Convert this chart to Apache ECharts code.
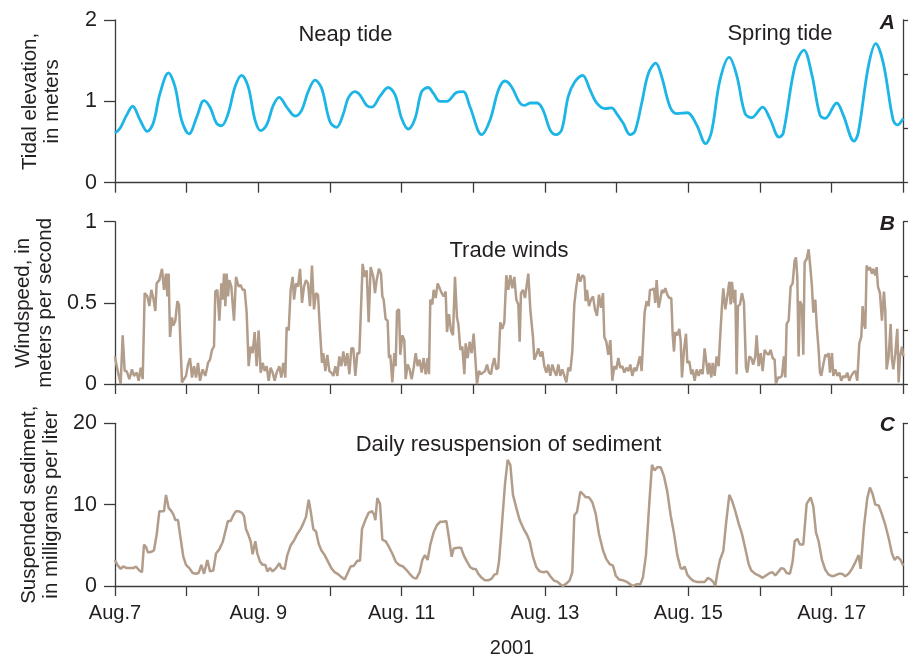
<!DOCTYPE html>
<html>
<head>
<meta charset="utf-8">
<script src="https://cdn.jsdelivr.net/npm/echarts@6/dist/echarts.min.js"></script>
<style>
html,body{margin:0;padding:0;background:#fff;}
#c{width:908px;height:658px;}
</style>
</head>
<body>
<div id="c"></div>
<script>
// x values: hours since Aug. 7, 2001 00:00
const dayLabels = ['Aug.7','','Aug. 9','','Aug. 11','','Aug. 13','','Aug. 15','','Aug. 17',''];

// Panel A: tidal elevation (m)
const tide = [[0,0.61],[1.7,0.67],[3.9,0.83],[5.9,0.94],[8.4,0.77],[10.8,0.63],[12.8,0.73],[15.1,1.10],[17.9,1.35],[20.1,1.18],[22.3,0.77],[24.8,0.60],[27.4,0.81],[29.8,1.01],[31.8,0.93],[34.0,0.73],[35.7,0.70],[37.9,0.85],[40.2,1.18],[42.4,1.32],[44.6,1.18],[46.9,0.77],[48.8,0.64],[50.8,0.71],[53.0,0.95],[55.0,1.05],[57.5,0.93],[60.3,0.82],[62.5,0.89],[64.7,1.12],[67.0,1.26],[69.2,1.16],[72.0,0.75],[74.2,0.68],[76.5,0.85],[78.1,1.04],[80.4,1.12],[82.0,1.08],[84.3,0.95],[86.0,0.93],[88.7,1.06],[91.5,1.17],[93.8,1.08],[96.0,0.79],[98.2,0.66],[100.5,0.79],[102.7,1.12],[104.9,1.17],[106.6,1.10],[108.8,1.00],[111.1,1.00],[114.4,1.11],[116.6,1.12],[118.9,0.93],[122.8,0.59],[125.6,0.77],[128.4,1.14],[130.6,1.25],[132.8,1.18],[135.6,0.98],[137.3,0.95],[139.0,0.98],[141.4,0.98],[143.4,0.89],[145.7,0.65],[147.7,0.59],[149.6,0.65],[151.8,1.06],[154.0,1.24],[156.6,1.32],[159.1,1.14],[161.3,0.98],[164.1,0.91],[166.3,0.92],[168.0,0.85],[170.2,0.73],[172.5,0.59],[174.1,0.63],[176.4,0.98],[178.6,1.34],[181.1,1.47],[183.1,1.30],[185.9,0.93],[188.1,0.85],[191.7,0.86],[194.8,0.71],[197.8,0.48],[199.8,0.63],[202.6,1.26],[205.7,1.54],[208.2,1.32],[211.0,0.85],[213.2,0.80],[216.9,0.93],[219.3,0.79],[222.4,0.56],[223.8,0.61],[227.7,1.43],[230.7,1.63],[233.3,1.34],[236.1,0.83],[237.8,0.79],[241.7,0.98],[243.9,0.83],[247.5,0.51],[248.9,0.61],[252.3,1.43],[254.8,1.71],[257.3,1.47],[260.6,0.77],[262.0,0.71],[264.0,0.79]];

// Panel B: windspeed (m/s)
const wind = [[0,0.17],[0.56,0.11],[1.12,0.12],[1.9,0],[2.57,0.3],[3.24,0.08],[3.91,0.08],[4.8,0.03],[5.69,0.09],[6.36,0.05],[7.26,0.07],[7.93,0.02],[8.6,0.1],[9.27,0.03],[9.94,0.56],[10.83,0.54],[11.5,0.48],[12.17,0.58],[12.84,0.53],[13.51,0.45],[13.95,0.62],[14.85,0.64],[15.74,0.71],[16.41,0.58],[17.08,0.68],[17.53,0.54],[17.97,0.68],[18.42,0.29],[19.09,0.41],[19.54,0.36],[20.21,0.39],[20.88,0.51],[21.43,0.49],[21.99,0.21],[22.44,0.01],[23.11,0.03],[23.78,0.05],[24.45,0.12],[25.12,0.16],[25.79,0.04],[26.46,0.11],[27.13,0.04],[27.8,0.13],[28.47,0.02],[29.36,0.09],[30.25,0.05],[31.15,0.13],[31.82,0.15],[32.48,0.21],[33.15,0.23],[33.6,0.57],[34.27,0.58],[34.94,0.39],[35.61,0.62],[36.06,0.52],[36.5,0.68],[36.95,0.48],[37.4,0.68],[37.84,0.54],[38.29,0.64],[38.96,0.6],[39.85,0.39],[40.52,0.66],[41.41,0.6],[42.08,0.61],[42.75,0.58],[43.42,0.58],[44.09,0.44],[44.76,0.11],[45.43,0.23],[46.1,0.19],[46.77,0.32],[47.44,0.11],[48.11,0.33],[48.78,0.07],[49.45,0.13],[50.12,0.08],[50.79,0.11],[51.46,0.02],[52.13,0.1],[52.8,0.07],[53.47,0.02],[54.14,0.07],[55.03,0.11],[55.7,0.04],[56.37,0.13],[57.04,0.04],[57.49,0.35],[58.16,0.33],[58.83,0.58],[59.5,0.66],[59.95,0.52],[60.62,0.62],[61.29,0.6],[61.96,0.71],[62.63,0.5],[63.3,0.6],[63.96,0.64],[64.63,0.62],[65.3,0.48],[65.97,0.73],[66.64,0.46],[67.31,0.56],[67.98,0.55],[68.65,0.33],[69.32,0.13],[69.77,0.19],[70.44,0.08],[71.11,0.18],[71.78,0.08],[72.45,0.07],[73.12,0.05],[73.79,0.11],[74.46,0.05],[75.13,0.17],[75.8,0.11],[76.47,0.2],[77.14,0.11],[77.81,0.19],[78.48,0.06],[79.15,0.22],[79.82,0.22],[80.49,0.05],[81.16,0.19],[81.83,0.19],[82.27,0.41],[82.94,0.74],[83.61,0.66],[84.28,0.7],[84.95,0.38],[85.62,0.72],[86.51,0.66],[87.07,0.56],[87.63,0.64],[88.41,0.71],[89.08,0.68],[89.53,0.54],[89.97,0.52],[90.64,0.4],[91.31,0.39],[91.76,0.16],[92.2,0.18],[92.87,0.01],[93.54,0.19],[93.99,0.11],[94.44,0.45],[95.11,0.46],[95.55,0.18],[96.22,0.3],[96.89,0.27],[97.34,0.03],[98.01,0.12],[98.68,0.09],[99.35,0.03],[100.02,0.1],[100.69,0.19],[101.36,0.11],[102.03,0.15],[102.7,0.07],[103.37,0.16],[104.04,0.06],[104.71,0.16],[105.15,0.06],[105.6,0.52],[106.27,0.49],[106.72,0.58],[107.39,0.53],[108.06,0.62],[108.73,0.59],[109.4,0.56],[110.07,0.54],[110.74,0.57],[111.18,0.32],[111.85,0.43],[112.52,0.33],[113.19,0.3],[113.86,0.66],[114.53,0.41],[114.98,0.37],[115.65,0.21],[116.32,0.23],[116.99,0.06],[117.43,0.25],[118.1,0.16],[118.77,0.26],[119.44,0.19],[120.11,0.31],[120.56,0.19],[121.23,0],[121.9,0.08],[122.57,0.06],[123.24,0.07],[123.91,0.08],[124.58,0.12],[125.25,0.07],[125.92,0.06],[126.36,0.11],[127.03,0.16],[127.7,0.09],[128.37,0.1],[129.04,0.38],[129.71,0.34],[130.38,0.38],[131.05,0.67],[131.72,0.58],[132.39,0.67],[133.06,0.59],[133.73,0.66],[134.4,0.52],[135.07,0.49],[135.52,0.26],[135.96,0.56],[136.63,0.58],[137.3,0.53],[137.97,0.62],[138.42,0.68],[139.09,0.46],[139.54,0.37],[139.98,0.29],[140.43,0.15],[141.1,0.18],[141.77,0.22],[142.44,0.17],[143.11,0.2],[143.78,0.11],[144.45,0.07],[145.12,0.12],[145.79,0.05],[146.46,0.12],[147.13,0.08],[147.8,0.05],[148.47,0.12],[149.14,0.05],[149.81,0.09],[150.48,0.05],[151.15,0.01],[151.81,0.1],[152.48,0.08],[153.15,0.2],[153.82,0.49],[154.49,0.6],[155.16,0.68],[155.83,0.63],[156.5,0.67],[157.17,0.66],[157.62,0.51],[158.07,0.58],[158.74,0.48],[159.41,0.52],[160.08,0.54],[160.74,0.46],[161.41,0.42],[162.08,0.55],[162.75,0.47],[163.42,0.56],[163.87,0.29],[164.54,0.26],[165.21,0.18],[165.88,0.27],[166.55,0.02],[167.22,0.11],[167.89,0.09],[168.56,0.16],[169.23,0.1],[169.9,0.11],[170.57,0.07],[171.24,0.1],[171.91,0.08],[172.58,0.12],[173.25,0.05],[173.92,0.1],[174.59,0.08],[175.26,0.13],[175.81,0.17],[176.37,0.08],[176.93,0.28],[177.37,0.44],[178.04,0.51],[178.71,0.48],[179.16,0.58],[179.83,0.58],[180.5,0.59],[180.94,0.5],[181.39,0.64],[182.06,0.47],[182.51,0.51],[183.18,0.58],[183.62,0.56],[184.29,0.59],[184.96,0.55],[185.63,0.53],[186.3,0.53],[186.75,0.31],[187.2,0.2],[187.64,0.32],[188.31,0.3],[188.98,0.34],[189.43,0.27],[189.88,0.04],[190.55,0.21],[191.22,0.31],[191.66,0.13],[192.33,0.14],[193,0.06],[193.45,0.09],[194.12,0.02],[194.79,0.09],[195.46,0.05],[196.13,0.09],[196.8,0.06],[197.47,0.22],[197.91,0.15],[198.58,0.06],[199.03,0.13],[199.7,0.04],[200.15,0.13],[200.82,0.05],[201.48,0.17],[202.15,0.11],[202.6,0.27],[203.27,0.48],[203.72,0.59],[204.39,0.46],[205.06,0.54],[205.73,0.63],[206.17,0.49],[206.62,0.63],[207.29,0.5],[207.74,0.58],[208.18,0.06],[208.63,0.48],[209.3,0.49],[209.97,0.56],[210.64,0.5],[211.31,0.1],[211.75,0.07],[212.42,0.17],[213.09,0.16],[213.76,0.12],[214.43,0.17],[214.88,0.3],[215.55,0.11],[216.22,0.19],[216.89,0.08],[217.56,0.21],[218.23,0.19],[218.9,0.18],[219.57,0.21],[220.24,0.16],[220.91,0.15],[221.35,0],[222.02,0.04],[222.69,0.04],[223.36,0.05],[224.03,0.17],[224.48,0.04],[224.93,0.37],[225.6,0.39],[226.27,0.6],[226.94,0.62],[227.61,0.76],[228.05,0.78],[228.5,0.66],[228.94,0.17],[229.39,0.51],[230.06,0.48],[230.51,0.18],[230.96,0.75],[231.63,0.77],[232.3,0.83],[232.96,0.7],[233.41,0.6],[233.86,0.44],[234.53,0.52],[234.97,0.37],[235.64,0.21],[236.09,0.07],[236.54,0.05],[237.21,0.12],[237.88,0.18],[238.55,0.17],[238.99,0.19],[239.44,0.07],[240.11,0.19],[240.56,0.05],[241.23,0.09],[241.9,0.05],[242.57,0.07],[243.23,0.02],[243.9,0.05],[244.57,0.04],[245.24,0.07],[245.91,0.02],[246.58,0.05],[247.25,0.07],[247.92,0.08],[248.59,0.02],[249.26,0.25],[249.93,0.29],[250.38,0.48],[250.83,0.37],[251.27,0.34],[251.72,0.73],[252.39,0.7],[252.83,0.72],[253.5,0.68],[253.95,0.71],[254.62,0.67],[255.07,0.72],[255.51,0.6],[256.18,0.56],[256.85,0.39],[257.52,0.57],[257.97,0.45],[258.42,0.09],[259.09,0.17],[259.76,0.37],[260.2,0.15],[260.65,0.09],[261.32,0.19],[261.99,0.34],[262.44,0.01],[262.88,0.17],[263.55,0.23],[264,0.17]];

// Panel C: suspended sediment (mg/L)
const sediment = [[0,3.2],[0.78,2.6],[1.9,2.1],[2.79,2.4],[3.91,2.2],[5.02,2.2],[6.14,2.2],[7.03,2.4],[8.15,1.9],[9.04,1.7],[9.71,5.1],[10.38,4.8],[11.05,4.1],[12.17,4.2],[13.06,4.4],[13.95,6.3],[14.85,9.2],[15.74,9.2],[16.41,9.2],[17.08,11.2],[17.97,9.6],[18.87,9.2],[19.54,8.8],[20.21,8.1],[21.1,8.1],[21.99,5.8],[22.88,3.6],[23.78,2.6],[24.89,2.2],[26.01,1.6],[27.13,1.5],[28.02,1.6],[28.91,2.6],[29.81,1.5],[30.92,3.2],[31.82,1.8],[32.93,1.9],[33.83,4.0],[34.94,4.5],[36.06,5.4],[36.95,6.7],[37.84,8.0],[38.74,8.0],[39.63,8.7],[40.52,9.2],[41.41,9.2],[42.53,9.0],[43.2,8.6],[43.87,7.0],[44.76,6.2],[45.43,5.5],[46.1,3.9],[46.99,5.5],[47.66,4.0],[48.56,3.0],[49.45,2.6],[50.35,2.6],[51.02,1.8],[51.9,2.2],[52.8,1.8],[53.92,2.2],[55.03,2.8],[55.7,2.2],[56.82,2.1],[57.71,3.8],[58.83,5.0],[59.95,5.6],[61.06,6.4],[62.18,7.0],[63.07,7.7],[63.96,8.5],[64.86,10.6],[65.53,9.2],[66.42,7.0],[67.31,6.7],[68.21,5.2],[69.1,4.4],[70.22,3.8],[71.34,3.0],[72.45,2.2],[73.57,1.7],[74.91,1.4],[75.8,1.1],[76.91,0.8],[77.81,1.5],[78.93,2.4],[80.04,2.5],[81.16,3.1],[82.05,3.1],[82.72,7.0],[83.84,8.1],[84.95,9.0],[86.07,9.2],[86.74,8.8],[87.18,8.1],[87.85,10.8],[88.75,10.1],[89.53,5.7],[90.64,5.5],[91.76,4.8],[92.87,4.0],[93.99,3.0],[95.11,2.6],[96.45,2.4],[97.79,1.9],[99.13,1.3],[100.02,1.0],[100.91,0.9],[102.03,1.7],[102.92,3.2],[103.81,3.8],[104.71,3.2],[105.6,5.1],[106.72,6.6],[107.83,7.5],[108.95,7.9],[110.07,7.9],[110.96,8.0],[111.85,5.9],[112.74,3.6],[113.41,4.6],[114.75,4.7],[115.87,4.7],[116.76,3.8],[117.88,3.0],[118.99,2.3],[119.89,2.1],[120.78,2.1],[121.67,1.5],[122.79,1.0],[123.91,0.7],[125.02,0.7],[126.14,0.9],[127.03,1.4],[127.93,1.5],[128.6,3.0],[129.49,7.1],[130.6,12.5],[131.5,15.5],[132.39,14.9],[133.28,11.2],[134.4,9.6],[135.52,8.1],[136.86,7.0],[137.97,6.3],[138.87,5.5],[139.98,3.6],[141.1,2.3],[142.22,1.8],[143.56,1.7],[144.67,1.8],[145.79,1.2],[146.9,0.7],[148.24,0.5],[149.14,0.2],[150.03,0.0],[151.15,0.3],[152.26,0.7],[153.15,1.7],[153.82,8.7],[154.72,9.1],[155.83,11.6],[156.73,11.3],[157.62,10.9],[158.74,10.9],[159.85,10.3],[160.97,8.9],[162.09,6.4],[163.42,4.4],[164.54,3.3],[165.66,2.7],[166.77,2.5],[167.67,1.3],[168.78,0.8],[170.12,0.7],[171.46,0.5],[172.58,0.2],[173.47,0.0],[174.59,0.2],[175.93,0.2],[176.82,1.1],[177.82,3.8],[178.94,10.2],[179.83,14.9],[180.72,14.2],[181.61,14.6],[182.73,14.6],[183.85,13.5],[184.96,11.6],[186.08,8.7],[187.2,6.5],[188.31,3.8],[189.43,2.2],[190.1,2.1],[190.77,2.4],[191.66,1.4],[192.78,0.9],[193.89,0.6],[195.01,0.5],[196.35,0.5],[197.47,0.5],[198.58,1.0],[199.48,0.8],[200.37,0.5],[201.04,0.0],[201.71,1.6],[202.6,3.2],[203.72,4.3],[204.61,7.6],[205.73,11.2],[206.62,10.5],[207.74,9.2],[208.85,7.7],[209.97,6.4],[211.08,4.6],[212.2,2.7],[213.09,1.9],[214.43,1.5],[215.55,1.3],[216.89,1.0],[218.01,1.3],[219.35,1.6],[220.24,1.7],[221.13,1.3],[222.25,1.8],[223.14,2.2],[224.03,2.1],[224.93,1.6],[226.04,1.5],[226.94,3.0],[227.61,5.5],[228.5,5.8],[229.39,5.1],[230.51,5.1],[231.63,10.1],[232.96,10.9],[233.86,9.8],[234.75,6.6],[235.64,5.5],[236.76,3.2],[237.88,2.0],[238.99,1.4],[240.11,1.2],[241.23,1.3],[242.34,1.5],[243.46,1.5],[244.57,1.2],[245.69,1.5],[246.81,2.1],[247.92,2.9],[249.04,3.8],[249.71,2.1],[250.83,7.3],[251.94,10.8],[252.83,12.1],[253.73,11.3],[254.62,10.0],[255.74,9.9],[256.85,8.8],[257.97,7.5],[259.09,5.9],[260.2,4.0],[261.09,3.2],[261.99,3.6],[263.1,3.2],[264,2.5]];

const panelNames = ['Tidal elevation,\nin meters','Windspeed, in\nmeters per second','Suspended sediment,\nin milligrams per liter'];
const panelMax = [2, 1, 20];
const panelInterval = [1, 0.5, 10];
const panelLetters = ['A','B','C'];
const notes = ['Neap tide','Spring tide','Trade winds','Daily resuspension of sediment'];
const yearLabel = '2001';

const FONT = "'Liberation Sans', Arial, Helvetica, sans-serif";
const TXT = '#231f20';
const AX = '#3c3c3c';
const tops = [20, 221.7, 423.3];
const heights = [162.7, 162.3, 162.7];

const grids = [], xAxes = [], yAxes = [], series = [];
const lineColors = ['#1db4e6', '#b29c8a', '#b29c8a'];
const datasets = [tide, wind, sediment];
for (let i = 0; i < 3; i++) {
  grids.push({left: 115, width: 788.3, top: tops[i], height: heights[i], containLabel: false});
  xAxes.push({
    type: 'value', gridIndex: i, min: 0, max: 264, interval: 24,
    axisLine: {show: true, onZero: false, lineStyle: {color: AX, width: 1.3}},
    axisTick: {show: true, length: 10, lineStyle: {color: AX, width: 1.3}},
    axisLabel: {show: i === 2, margin: 17, color: TXT, fontSize: 20, fontFamily: FONT,
      formatter: v => dayLabels[Math.round(v / 24)] || ''},
    splitLine: {show: false}
  });
  yAxes.push({
    type: 'value', gridIndex: i, position: 'left', min: 0, max: panelMax[i], interval: panelInterval[i],
    name: panelNames[i], nameLocation: 'middle', nameRotate: 90, nameGap: 52,
    nameTextStyle: {color: TXT, fontSize: 20.5, fontFamily: FONT, lineHeight: 22},
    axisLine: {show: true, lineStyle: {color: AX, width: 1.3}},
    axisTick: {show: true, length: 11, lineStyle: {color: AX, width: 1.3}},
    axisLabel: {margin: 18, color: TXT, fontSize: 21.5, fontFamily: FONT},
    splitLine: {show: false}
  });
  yAxes.push({
    type: 'value', gridIndex: i, position: 'right', min: 0, max: 3, interval: 1,
    axisLine: {show: true, lineStyle: {color: AX, width: 1.3}},
    axisTick: {show: true, length: 6, lineStyle: {color: AX, width: 1.3}},
    axisLabel: {show: false}, splitLine: {show: false}
  });
  series.push({
    type: 'line', xAxisIndex: i, yAxisIndex: i * 2, data: datasets[i],
    showSymbol: false, symbol: 'none', smooth: i === 0 ? 0.35 : false,
    lineStyle: {color: lineColors[i], width: i === 0 ? 2.8 : 2.5},
    clip: true, z: 3
  });
}

const txt = (text, x, y, size, align, extra) => ({
  type: 'text', x: x, y: y,
  style: {text: text, font: (extra || '') + ' ' + size + 'px ' + FONT, fill: TXT, align: align, verticalAlign: 'middle'}
});

const graphics = [
  txt(notes[0], 345.5, 35, 22, 'center'),
  txt(notes[1], 780, 34, 22, 'center'),
  txt(notes[2], 509, 251, 22, 'center'),
  txt(notes[3], 508.5, 444.5, 22, 'center'),
  txt(yearLabel, 512, 648, 20, 'center'),
  txt(panelLetters[0], 895, 23, 21, 'right', 'italic bold'),
  txt(panelLetters[1], 895, 224.5, 21, 'right', 'italic bold'),
  txt(panelLetters[2], 895, 425, 21, 'right', 'italic bold')
];

const chart = echarts.init(document.getElementById('c'), null, {renderer: 'canvas'});
chart.setOption({
  animation: false,
  backgroundColor: '#ffffff',
  grid: grids, xAxis: xAxes, yAxis: yAxes, series: series,
  graphic: graphics
});
</script>
</body>
</html>
